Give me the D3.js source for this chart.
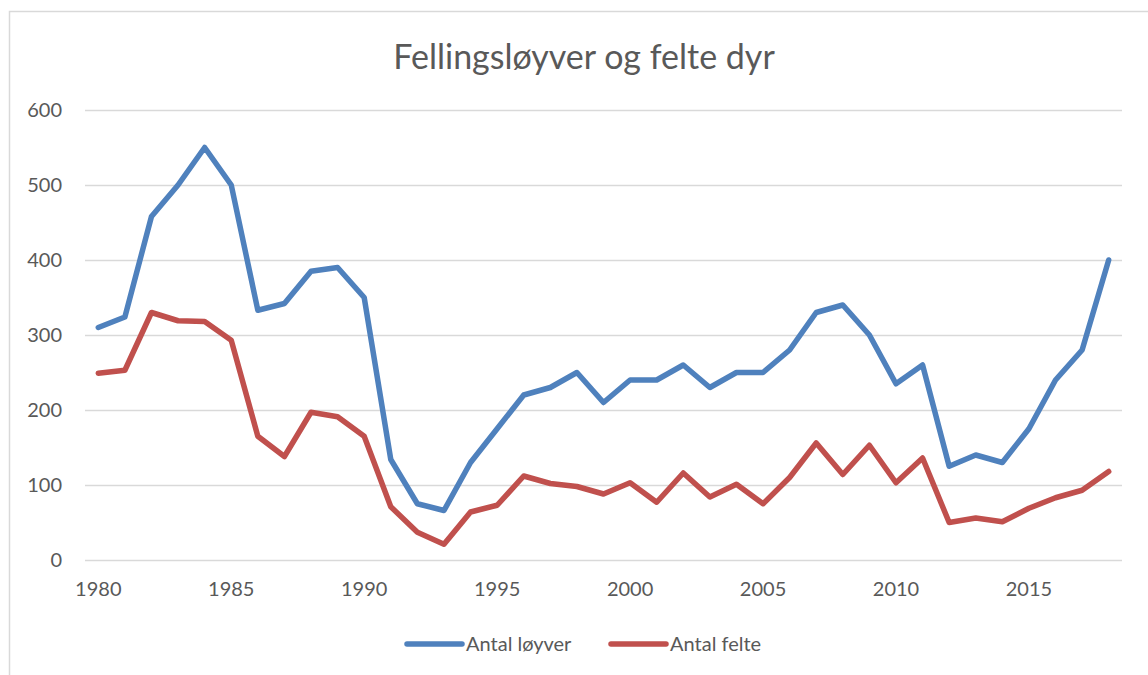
<!DOCTYPE html>
<html>
<head>
<meta charset="utf-8">
<script src="https://cdn.jsdelivr.net/npm/d3@7"></script>
<style>
  body { margin: 0; background: #fff; }
  text { font-family: Lato, "Open Sans", sans-serif; fill: #595959; }
</style>
</head>
<body>
<svg id="chart"></svg>
<script>
// data
const years = d3.range(1980, 2019)
const loyver = [310, 324, 458, 500, 550, 500, 333, 342, 385, 390, 350, 134, 75, 66, 130, 175, 220, 230, 250, 210,
  240, 240, 260, 230, 250, 250, 280, 330, 340, 300, 235, 260, 125, 140, 130, 175, 240, 280, 400]
const felte = [249, 253, 330, 319, 318, 293, 165, 138, 197, 191, 165, 71, 37, 21, 64, 73, 112, 102, 98, 88,
  103, 77, 116, 84, 101, 75, 110, 156, 114, 153, 103, 136, 50, 56, 51, 69, 83, 93, 118]
const yTicks = [0, 100, 200, 300, 400, 500, 600]
const xTicks = [1980, 1985, 1990, 1995, 2000, 2005, 2010, 2015]
const seriesNames = ['Antal løyver', 'Antal felte']
const colors = ['#4F81BD', '#C0504D']

/*
  Layout
*/
const [width, height] = [1148, 675]
const plot = {left: 85, right: 1122, top: 110, bottom: 560}

const svg = d3.select('#chart').attr('width', width).attr('height', height)

// outer chart frame (runs off the right and bottom edge)
svg.append('rect')
  .attr('x', 9.5).attr('y', 11.5)
  .attr('width', 1200).attr('height', 700)
  .attr('fill', 'none').attr('stroke', '#d9d9d9').attr('stroke-width', 1.5)

const x = d3.scaleBand().domain(years).range([plot.left, plot.right])
const y = d3.scaleLinear().domain([0, 600]).range([plot.bottom, plot.top])
const cx = d => x(d) + x.bandwidth() / 2

// gridlines + y labels
const yAxis = d3.axisLeft(y).tickValues(yTicks).tickSize(-(plot.right - plot.left)).tickPadding(23)
const gy = svg.append('g').attr('transform', `translate(${plot.left},0)`).call(yAxis)
gy.select('.domain').remove()
gy.selectAll('.tick line').attr('stroke', '#d9d9d9').attr('stroke-width', 1.5)
gy.selectAll('.tick text').attr('font-size', 20).attr('fill', '#595959')
  .style('font-family', 'Lato, sans-serif')

// x labels
const xAxis = d3.axisBottom(x).tickValues(xTicks).tickSize(0).tickPadding(22)
const gx = svg.append('g').attr('transform', `translate(0,${plot.bottom})`).call(xAxis)
gx.select('.domain').remove()
gx.selectAll('.tick text').attr('font-size', 20).attr('fill', '#595959')
  .style('font-family', 'Lato, sans-serif')

// lines
const line = d3.line().x((d, i) => cx(years[i])).y(d => y(d))
;[loyver, felte].forEach((vals, i) => {
  svg.append('path')
    .datum(vals)
    .attr('d', line)
    .attr('fill', 'none')
    .attr('stroke', colors[i])
    .attr('stroke-width', 5.5)
    .attr('stroke-linejoin', 'round')
    .attr('stroke-linecap', 'round')
})

// title
svg.append('text')
  .attr('x', 584).attr('y', 69)
  .attr('text-anchor', 'middle')
  .attr('font-size', 34)
  .text('Fellingsløyver og felte dyr')

// legend
const legendX = [407, 611]
seriesNames.forEach((name, i) => {
  const g = svg.append('g').attr('transform', `translate(${legendX[i]},644)`)
  g.append('line').attr('x1', 0).attr('x2', 55)
    .attr('stroke', colors[i]).attr('stroke-width', 5.5).attr('stroke-linecap', 'round')
  g.append('text').attr('x', 59).attr('dy', '0.35em').attr('font-size', 20).text(name)
})
</script>
</body>
</html>
